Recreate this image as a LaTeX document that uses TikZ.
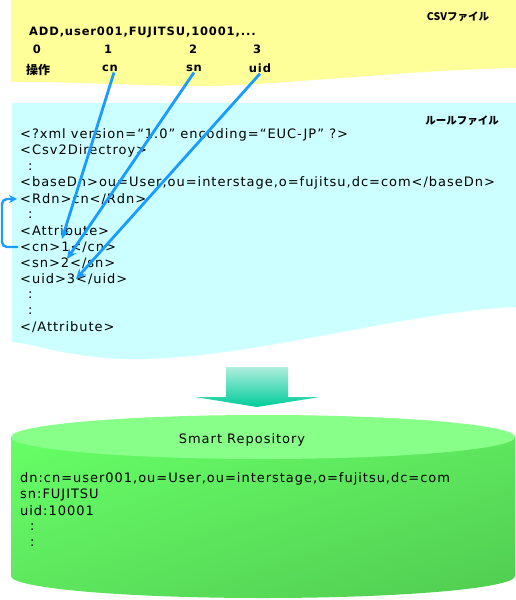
\documentclass[tikz,border=0pt]{standalone}
\usepackage{fontspec}
\setmainfont{DejaVu Sans}[LetterSpace=7.5]
\newfontfamily\jpfont{Noto Sans CJK JP}
\usepackage{xcolor}
\usetikzlibrary{arrows.meta,positioning,shadings}

\definecolor{csvyellow}{HTML}{FFFF99}
\definecolor{rulecyan}{HTML}{CCFFFF}
\definecolor{mapblue}{HTML}{1A9CFF}
\definecolor{repotop}{HTML}{88FF88}
\definecolor{repolight}{HTML}{66FF66}
\definecolor{repomid}{HTML}{5EE65E}
\definecolor{repodark}{HTML}{50CC50}
\definecolor{downtop}{HTML}{AEEEDD}
\definecolor{downbot}{HTML}{00CC99}

\tikzset{
  xml/.style={anchor=west, inner sep=0pt, font=\fontsize{13}{15}\selectfont},
  repotitle/.style={inner sep=0pt, font=\fontsize{13}{15}\selectfont},
  csvlbl/.style={inner sep=1pt, font=\fontsize{11.5}{13}\selectfont\bfseries},
  jplbl/.style={inner sep=1pt, font=\jpfont\fontsize{12}{14}\selectfont\bfseries},
  filetag/.style={inner sep=0pt, font=\jpfont\fontsize{10.5}{12}\selectfont\bfseries},
  mapflow/.style={-{Stealth[length=10pt,width=9pt]}, line width=2.8pt, mapblue},
  backflow/.style={-{Stealth[length=8pt,width=8pt]}, line width=2.4pt, mapblue,
                   rounded corners=5pt},
}

\begin{document}
\begin{tikzpicture}[x=1pt, y=-1pt]
\useasboundingbox (0,0) rectangle (516,600);

% ── CSV file (top, yellow) ─────────────────────────────────
\fill[csvyellow] (11,0) -- (516,0) -- (516,68)
      .. controls (400,70) and (260,88) .. (180,86)
      .. controls (100,84) and (40,81) .. (11,82) -- cycle;
\node[filetag] (csvtag) at (458,17) {CSVファイル};
\node[csvlbl, anchor=west, inner sep=0pt] (csvline) at (29,32) {ADD,user001,FUJITSU,10001,...};
\node[csvlbl] (f0) at (37,49) {0};
\node[csvlbl] (f1) at (108,49) {1};
\node[csvlbl] (f2) at (193,49) {2};
\node[csvlbl] (f3) at (257,49) {3};
\node[jplbl] (op) at (38,70) {操作};
\node[csvlbl] (cnl) at (110,68) {cn};
\node[csvlbl] (snl) at (194,68) {sn};
\node[csvlbl] (uidl) at (260,68) {uid};

% ── Rule file (middle, cyan) ───────────────────────────────
\fill[rulecyan] (12,103) -- (516,103) -- (516,307)
      .. controls (400,312) and (250,360) .. (130,359)
      .. controls (70,358) and (40,345) .. (12,342) -- cycle;
\node[filetag] (ruletag) at (462,121) {ルールファイル};
\node[xml] (xhead) at (20,135) {<?xml version=“1.0” encoding=“EUC-JP” ?>};
\node[xml] (xroot) at (20,151) {<Csv2Directroy>};
\node[xml] at (28,167) {:};
\node[xml] (xbase) at (20,183) {<baseDn>ou=User,ou=interstage,o=fujitsu,dc=com</baseDn>};
\node[xml] (xrdn) at (20,199) {<Rdn>cn</Rdn>};
\node[xml] at (28,215) {:};
\node[xml] (xattr) at (20,231) {<Attribute>};
\node[xml] (xcn) at (20,247) {<cn>1</cn>};
\node[xml] (xsn) at (20,263) {<sn>2</sn>};
\node[xml] (xuid) at (20,279) {<uid>3</uid>};
\node[xml] at (28,295) {:};
\node[xml] at (28,311) {:};
\node[xml] (xattrend) at (20,327) {</Attribute>};

% column -> rule mapping
\coordinate (cn@in) at (62,239);
\coordinate (sn@in) at (67,259);
\coordinate (uid@in) at (76,279);
\draw[mapflow] ([xshift=4pt]cnl.south) -- (cn@in);
\draw[mapflow] (snl.south) -- (sn@in);
\draw[mapflow] (uidl.south) -- (uid@in);
\draw[backflow] ([xshift=-2pt]xcn.west) -- ++(-16,0) |- ([xshift=-3pt]xrdn.west);

% ── Down arrow ─────────────────────────────────────────────
\shade[top color=downtop, bottom color=downbot]
      (226,367) -- (288,367) -- (288,397) -- (320,397) -- (257,407)
      -- (195,397) -- (226,397) -- cycle;

% ── Smart Repository (bottom, green cylinder) ──────────────
\shade[upper left=repolight, upper right=repomid, lower left=repomid,
       lower right=repodark]
      (11,437) -- (11,576)
      arc[start angle=180, end angle=0, x radius=252, y radius=22]
      -- (515,437) -- cycle;
\fill[repotop] (263,437) ellipse [x radius=252, y radius=22];
\node[repotitle] (repo) at (242,440) {Smart Repository};
\node[xml] (rdn) at (20,479) {dn:cn=user001,ou=User,ou=interstage,o=fujitsu,dc=com};
\node[xml] (rsn) at (20,495) {sn:FUJITSU};
\node[xml] (ruid) at (20,511) {uid:10001};
\node[xml] at (30,527) {:};
\node[xml] at (30,543) {:};

\end{tikzpicture}
\end{document}
